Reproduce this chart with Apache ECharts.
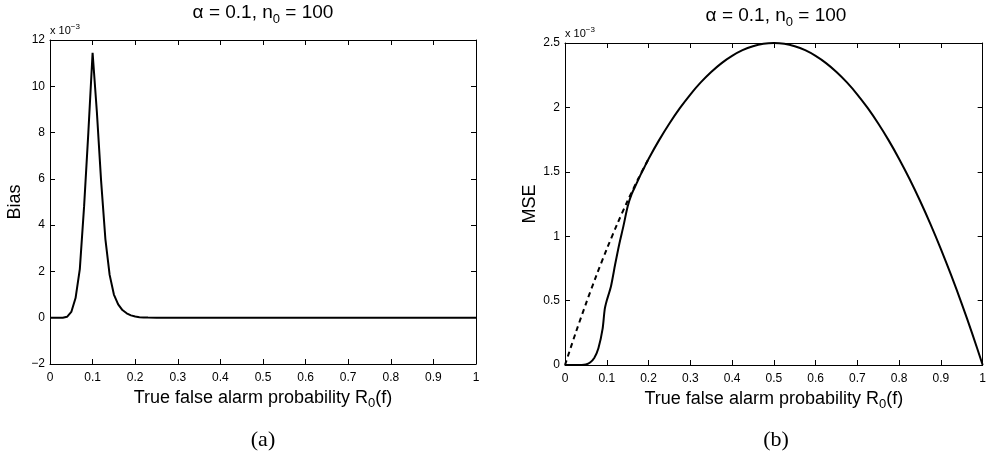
<!DOCTYPE html>
<html>
<head>
<meta charset="utf-8">
<title>Bias and MSE</title>
<style type="text/css">
    html, body { margin: 0; padding: 0; background: #fff; }
    #container { width: 989px; height: 454px; }
</style>
</head>
<body>
<div id="container"></div>
<script src="https://cdn.jsdelivr.net/npm/echarts@6/dist/echarts.min.js"></script>
<script type="text/javascript">
    // panel (a): bias, values in units of 1e-3
    var biasX = [0, 0.01, 0.02, 0.03, 0.04, 0.05, 0.06, 0.07, 0.08, 0.09, 0.1,
        0.11, 0.12, 0.13, 0.14, 0.15, 0.16, 0.17, 0.18, 0.19, 0.2,
        0.21, 0.22, 0.23, 0.25, 0.3, 0.4, 0.5, 0.6, 0.7, 0.8, 0.9, 1];
    var biasY = [0, 0, 0, 0, 0.04, 0.25, 0.85, 2.1, 4.8, 8.0, 11.45,
        8.9, 5.9, 3.4, 1.85, 1.0, 0.58, 0.33, 0.19, 0.1, 0.05,
        0.025, 0.01, 0.005, 0, 0, 0, 0, 0, 0, 0, 0, 0];

    // panel (b): MSE, values in units of 1e-3
    var mseX = [0, 0.01, 0.02, 0.03, 0.04, 0.05, 0.06, 0.07, 0.08, 0.09, 0.095, 0.1,
        0.11, 0.12, 0.13, 0.14, 0.15, 0.16, 0.17, 0.18, 0.19, 0.2,
        0.225, 0.25, 0.275, 0.3, 0.325, 0.35, 0.375, 0.4, 0.425, 0.45, 0.475, 0.5,
        0.525, 0.55, 0.575, 0.6, 0.625, 0.65, 0.675, 0.7, 0.725, 0.75, 0.775, 0.8,
        0.825, 0.85, 0.875, 0.9, 0.925, 0.95, 0.975, 1];
    var mseY = [0, 0, 0, 0, 0, 0.004, 0.02, 0.055, 0.13, 0.28, 0.43, 0.5,
        0.61, 0.78, 0.94, 1.08, 1.23, 1.33, 1.4, 1.47, 1.535, 1.6,
        1.744, 1.875, 1.994, 2.1, 2.194, 2.275, 2.344, 2.4, 2.444, 2.475, 2.494, 2.5,
        2.494, 2.475, 2.444, 2.4, 2.344, 2.275, 2.194, 2.1, 1.994, 1.875, 1.744, 1.6,
        1.444, 1.275, 1.094, 0.9, 0.694, 0.475, 0.244, 0];
    // dashed reference curve
    var refX = [0, 0.025, 0.05, 0.075, 0.1, 0.125, 0.15, 0.175, 0.2];
    var refY = [0, 0.244, 0.475, 0.694, 0.9, 1.094, 1.275, 1.444, 1.6];

    var FONT = 'Liberation Sans';

    function pairs(xs, ys) {
        var out = [];
        for (var i = 0; i < xs.length; i++) out.push([xs[i], ys[i]]);
        return out;
    }

    function minus(v) {
        return String(v).replace('-', '\u2212');
    }

    function richText(size) {
        return {
            n: { fontFamily: FONT, fontSize: size, color: '#000' },
            s: { fontFamily: FONT, fontSize: 13, color: '#000', padding: [12, 0, 0, 0] }
        };
    }

    var AXLINE = { onZero: false, lineStyle: { color: '#000', width: 1 } };
    var AXTICK = { inside: true, length: 5, lineStyle: { color: '#000' } };

    function xAxes(grid) {
        return [{
            gridIndex: grid, type: 'value', min: 0, max: 1, interval: 0.1, position: 'bottom',
            axisLine: AXLINE, axisTick: AXTICK,
            axisLabel: { color: '#000', fontFamily: FONT, fontSize: 12, margin: 8 },
            splitLine: { show: false },
            name: '{n|True false alarm probability R}{s|0}{n|(f)}',
            nameLocation: 'middle', nameGap: 14,
            nameTextStyle: { rich: richText(18) }
        }, {
            gridIndex: grid, type: 'value', min: 0, max: 1, interval: 0.1, position: 'top',
            axisLine: AXLINE, axisTick: AXTICK,
            axisLabel: { show: false },
            splitLine: { show: false }
        }];
    }

    function yAxes(grid, min, max, step, name, gap) {
        return [{
            gridIndex: grid, type: 'value', min: min, max: max, interval: step, position: 'left',
            axisLine: AXLINE, axisTick: AXTICK,
            axisLabel: { color: '#000', fontFamily: FONT, fontSize: 12, margin: 5, formatter: minus },
            splitLine: { show: false },
            name: name, nameLocation: 'middle', nameGap: gap,
            nameTextStyle: { color: '#000', fontFamily: FONT, fontSize: 18 }
        }, {
            gridIndex: grid, type: 'value', min: min, max: max, interval: step, position: 'right',
            axisLine: AXLINE, axisTick: AXTICK,
            axisLabel: { show: false },
            splitLine: { show: false }
        }];
    }

    function titleText(x, y) {
        return {
            type: 'text', x: x, y: y,
            style: {
                text: '{n|\u03b1 = 0.1, n}{s|0}{n| = 100}',
                align: 'center', verticalAlign: 'middle',
                rich: richText(19)
            }
        };
    }

    function scaleText(x, y) {
        return {
            type: 'text', x: x, y: y,
            style: {
                text: '{n|x 10}{p|\u22123}',
                align: 'left', verticalAlign: 'middle',
                rich: {
                    n: { fontFamily: FONT, fontSize: 11, color: '#000' },
                    p: { fontFamily: FONT, fontSize: 8, color: '#000', padding: [0, 0, 8, 0] }
                }
            }
        };
    }

    function panelLabel(x, y, txt) {
        return {
            type: 'text', x: x, y: y,
            style: {
                text: txt, align: 'center', verticalAlign: 'middle',
                font: '22px "Liberation Serif"', fill: '#000'
            }
        };
    }

    var chart = echarts.init(document.getElementById('container'));
    var option = {
        animation: false,
        backgroundColor: '#fff',
        grid: [
            { left: 50, top: 40, width: 426, height: 324 },
            { left: 565, top: 43, width: 422, height: 322 }
        ],
        xAxis: xAxes(0).concat(xAxes(1)),
        yAxis: yAxes(0, -2, 12, 2, 'Bias', 26).concat(yAxes(1, 0, 2.5, 0.5, 'MSE', 26)),
        graphic: [
            titleText(263, 13),
            titleText(776, 16),
            scaleText(50, 31),
            scaleText(565, 34),
            panelLabel(263, 440, '(a)'),
            panelLabel(776, 440, '(b)')
        ],
        series: [{
            type: 'line', xAxisIndex: 0, yAxisIndex: 0,
            data: pairs(biasX, biasY), showSymbol: false,
            lineStyle: { color: '#000', width: 2 }
        }, {
            type: 'line', xAxisIndex: 2, yAxisIndex: 2,
            data: pairs(refX, refY), showSymbol: false, smooth: 0.3,
            lineStyle: { color: '#000', width: 2, type: [5, 4] }
        }, {
            type: 'line', xAxisIndex: 2, yAxisIndex: 2,
            data: pairs(mseX, mseY), showSymbol: false, smooth: 0.25,
            lineStyle: { color: '#000', width: 2 }
        }]
    };
    chart.setOption(option);
</script>
</body>
</html>
